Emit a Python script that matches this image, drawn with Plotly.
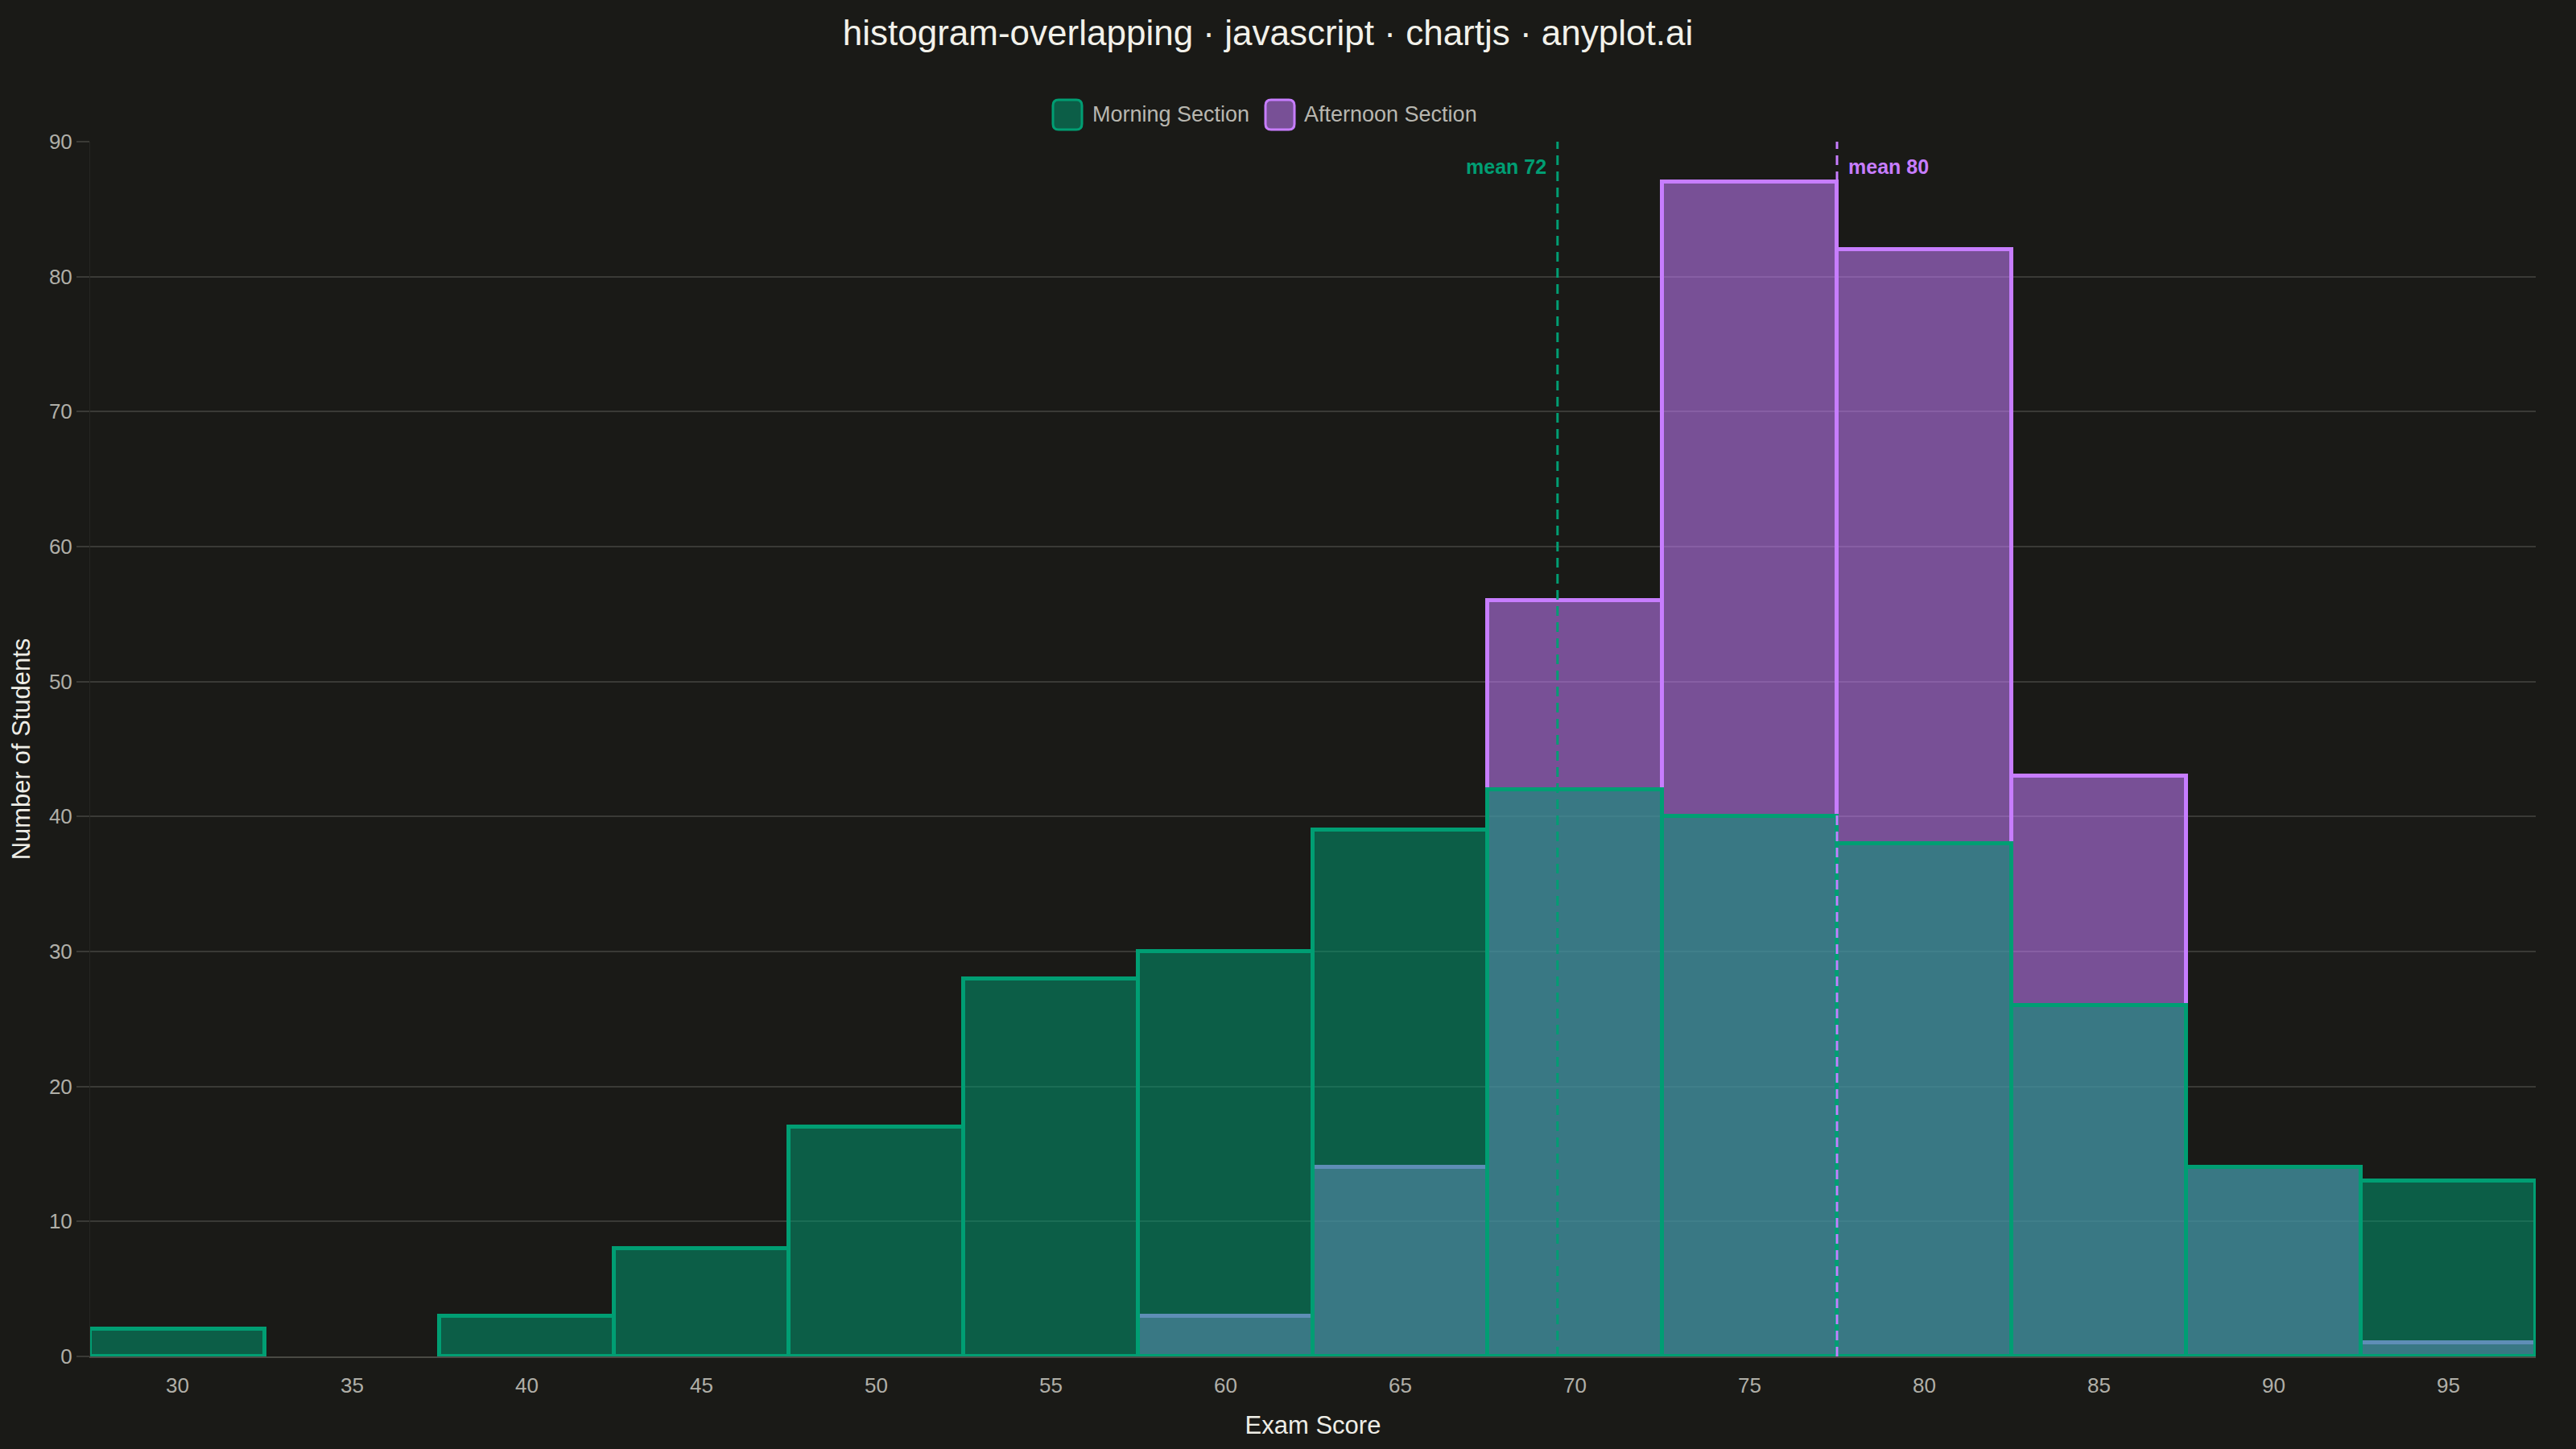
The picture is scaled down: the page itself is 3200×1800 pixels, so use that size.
import plotly.graph_objects as go

# ---- data ----
score_bins = [30, 35, 40, 45, 50, 55, 60, 65, 70, 75, 80, 85, 90, 95]
morning_counts = [2, 0, 3, 8, 17, 28, 30, 39, 42, 40, 38, 26, 14, 13]
afternoon_counts = [0, 0, 0, 0, 0, 0, 3, 14, 56, 87, 82, 43, 14, 1]
bin_width = 5

mean_labels = ["mean 72", "mean 80"]
mean_line_x = [69.5, 77.5]   # where the dashed lines sit on the score axis

GREEN = "#009E73"
PURPLE = "#C77DFF"
GREEN_FILL = "rgba(0,158,115,0.52)"
PURPLE_FILL = "rgba(199,125,255,0.55)"
BG = "#1A1A17"
GRID = "#3A3A36"
FONT = "Liberation Sans, Arial, sans-serif"

W, H = 3200, 1800
L, R, T, B = 112, 50, 176, 115


def px_x(p):
    return (p - L) / (W - L - R)


def px_y(p):
    return (H - B - p) / (H - T - B)


def rounded_box(x0, y0, x1, y1, r):
    pts = [
        ("M", x0 + r, y0), ("L", x1 - r, y0), ("Q", x1, y0, x1, y0 + r),
        ("L", x1, y1 - r), ("Q", x1, y1, x1 - r, y1), ("L", x0 + r, y1),
        ("Q", x0, y1, x0, y1 - r), ("L", x0, y0 + r), ("Q", x0, y0, x0 + r, y0),
    ]
    out = []
    for p in pts:
        cmd, coords = p[0], p[1:]
        xy = []
        for k in range(0, len(coords), 2):
            xy.append(f"{px_x(coords[k]):.5f},{px_y(coords[k + 1]):.5f}")
        out.append(cmd + " ".join(xy))
    return " ".join(out) + " Z"


def nz(vals):
    return [v if v > 0 else None for v in vals]


fig = go.Figure()

# afternoon first so the morning bars sit on top
fig.add_trace(go.Bar(
    x=score_bins, y=nz(afternoon_counts), width=bin_width,
    name="Afternoon Section",
    marker=dict(color=PURPLE_FILL, line=dict(color=PURPLE, width=5)),
    showlegend=False,
))
fig.add_trace(go.Bar(
    x=score_bins, y=nz(morning_counts), width=bin_width,
    name="Morning Section",
    marker=dict(color=GREEN_FILL, line=dict(color=GREEN, width=5)),
    showlegend=False,
))

# mean lines + labels
for xm, lab, col, side in zip(mean_line_x, mean_labels, [GREEN, PURPLE], ["right", "left"]):
    fig.add_shape(type="line", xref="x", yref="paper", x0=xm, x1=xm, y0=0, y1=1,
                  line=dict(color=col, width=3, dash="12px,8px"), layer="above")
    fig.add_annotation(x=xm, y=px_y(207), xref="x", yref="paper", text=f"<b>{lab}</b>",
                       showarrow=False, xanchor=side, yanchor="middle",
                       xshift=-12 if side == "right" else 12,
                       font=dict(family=FONT, size=25, color=col))

# legend drawn by hand (big rounded swatches like the original)
legend_items = [
    ("Morning Section", GREEN, GREEN_FILL, 1308, 1355),
    ("Afternoon Section", PURPLE, PURPLE_FILL, 1572, 1618),
]
for name, line_col, fill_col, bx, tx in legend_items:
    fig.add_shape(type="path", xref="paper", yref="paper",
                  path=rounded_box(bx, 124, bx + 36, 161, 7),
                  fillcolor=fill_col, line=dict(color=line_col, width=3))
    fig.add_annotation(x=px_x(tx), y=px_y(142), xref="paper", yref="paper", text=name,
                       showarrow=False, xanchor="left", yanchor="middle",
                       font=dict(family=FONT, size=27, color="#B8B7B0"))

fig.update_xaxes(
    range=[score_bins[0] - bin_width / 2, score_bins[-1] + bin_width / 2],
    tickmode="array", tickvals=score_bins, ticktext=[str(s) for s in score_bins],
    showgrid=False, zeroline=False,
    showline=True, linecolor="#4A4A44", linewidth=2,
    ticks="", ticklabelstandoff=12,
    tickfont=dict(family=FONT, size=26, color="#B0AFA8"),
    title=dict(text="Exam Score", standoff=24,
               font=dict(family=FONT, size=31, color="#EEEDE6")),
)
fig.update_yaxes(
    range=[0, 90], dtick=10,
    showgrid=True, gridcolor=GRID, gridwidth=2, zeroline=False,
    showline=True, linecolor="#262622", linewidth=1,
    ticks="outside", ticklen=16, tickcolor=GRID, tickwidth=2,
    tickfont=dict(family=FONT, size=26, color="#B0AFA8"),
    title=dict(text="Number of Students", standoff=14,
               font=dict(family=FONT, size=31, color="#EEEDE6")),
)

fig.update_layout(
    width=W, height=H,
    barmode="overlay", bargap=0,
    paper_bgcolor=BG, plot_bgcolor=BG,
    margin=dict(l=L, r=R, t=T, b=B, autoexpand=False),
    title=dict(text="histogram-overlapping · javascript · chartjs · anyplot.ai",
               x=1575 / W, xanchor="center", xref="container",
               y=1 - 41 / H, yanchor="middle",
               font=dict(family=FONT, size=44, color="#F2F1EA")),
    showlegend=False,
)

page_css = (
    "document.body.style.margin='0';"
    "document.body.style.overflow='hidden';"
    f"document.body.style.background='{BG}';"
)
fig.write_html("out.html", post_script=page_css, config={"displayModeBar": False})
